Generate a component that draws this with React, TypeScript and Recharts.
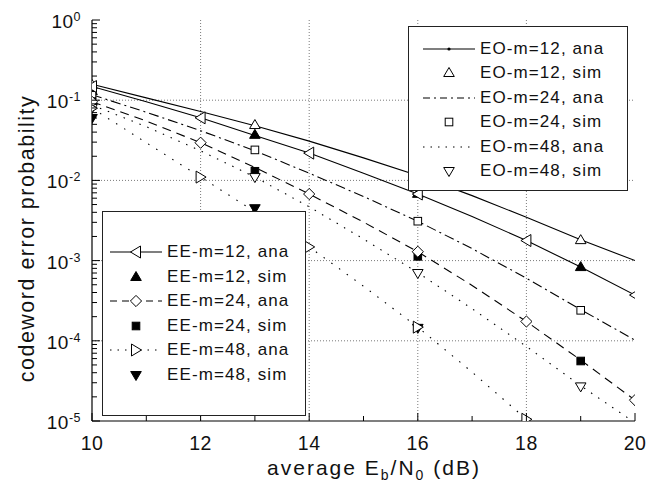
import React from 'react';
import { ComposedChart, Line, Scatter, XAxis, YAxis, CartesianGrid, Legend } from 'recharts';

// ---------- data ----------
const SNR = [10, 11, 12, 13, 14, 15, 16, 17, 18, 19, 20];
const SIM_SNR = [10, 13, 16, 19];
const EE48_SNR = [10, 11, 12, 13, 14, 15, 16, 17, 18];
const EE48_SIM_SNR = [10, 13, 16];

const EO12_ANA = [0.158, 0.107, 0.0724, 0.0479, 0.0309, 0.0191, 0.0115, 0.00646, 0.00347, 0.00182, 0.001];
const EO12_SIM = [0.155, 0.049, 0.0115, 0.0018];
const EE12_ANA = [0.148, 0.0955, 0.0603, 0.0363, 0.0219, 0.0123, 0.00676, 0.00355, 0.00178, 0.00083, 0.000372];
const EE12_SIM = [0.13, 0.037, 0.0068, 0.00083];
const EO24_ANA = [0.117, 0.0708, 0.0417, 0.0234, 0.0123, 0.0063, 0.00309, 0.00141, 0.000603, 0.000245, 0.000102];
const EO24_SIM = [0.115, 0.024, 0.0031, 0.00024];
const EE24_ANA = [0.0955, 0.055, 0.0295, 0.0145, 0.00676, 0.00302, 0.00129, 0.00049, 0.000174, 0.0000575, 0.0000182];
const EE24_SIM = [0.096, 0.013, 0.00113, 0.000056];
const EO48_ANA = [0.0871, 0.0468, 0.0234, 0.011, 0.00468, 0.00186, 0.000708, 0.000251, 0.0000851, 0.0000275, 0.0000095];
const EO48_SIM = [0.08, 0.011, 0.0007, 0.000027];
const EE48_ANA = [0.0794, 0.0295, 0.011, 0.00407, 0.00148, 0.000479, 0.000148, 0.0000407, 0.0000105];
const EE48_SIM = [0.06, 0.0045, 0.000145];

const X_TICKS = [10, 11, 12, 13, 14, 15, 16, 17, 18, 19, 20];
const X_LABELS = [10, 12, 14, 16, 18, 20];
const X_GRID = [12, 14, 16, 18];
const Y_DECADES = [1e-5, 1e-4, 1e-3, 1e-2, 1e-1, 1];
const Y_EXP_LABELS = ['-5', '-4', '-3', '-2', '-1', '0'];
const Y_GRID = [1e-4, 1e-3, 1e-2, 1e-1];

const Y_MINOR: number[] = [];
[1e-5, 1e-4, 1e-3, 1e-2, 1e-1].forEach((d) => {
  for (let k = 2; k <= 9; k++) Y_MINOR.push(k * d);
});
const Y_TICKS = [...Y_DECADES, ...Y_MINOR].sort((a, b) => a - b);

const pts = (xs: number[], ys: number[]) => xs.map((x, i) => ({ x, y: ys[i] }));

// ---------- styles ----------
const FONT = '"Liberation Sans", Arial, Helvetica, sans-serif';
const LW = 1.1;
const DASH_EO24 = '10 4 2 4';
const DASH_EE24 = '9 6';
const DOT_48 = '1.5 7';

type MarkerType = 'triUp' | 'triDown' | 'triLeft' | 'triRight' | 'square' | 'diamond' | 'dot';

const Marker = ({ type, cx, cy, filled }: { type: MarkerType; cx: number; cy: number; filled?: boolean }) => {
  if (cx == null || cy == null || isNaN(cx) || isNaN(cy)) return <g />;
  const fill = filled ? '#000' : '#fff';
  const common = { fill, stroke: '#000', strokeWidth: 1 };
  switch (type) {
    case 'triUp':
      return <polygon {...common} points={`${cx},${cy - 5.5} ${cx + 5.3},${cy + 3.5} ${cx - 5.3},${cy + 3.5}`} />;
    case 'triDown':
      return <polygon {...common} points={`${cx},${cy + 5.5} ${cx + 5.3},${cy - 3.5} ${cx - 5.3},${cy - 3.5}`} />;
    case 'triLeft':
      return <polygon {...common} points={`${cx - 5.5},${cy} ${cx + 4.5},${cy - 6} ${cx + 4.5},${cy + 6}`} />;
    case 'triRight':
      return <polygon {...common} points={`${cx + 5.5},${cy} ${cx - 4.5},${cy - 6} ${cx - 4.5},${cy + 6}`} />;
    case 'square':
      return <rect {...common} x={cx - 3.8} y={cy - 3.8} width={7.6} height={7.6} />;
    case 'diamond':
      return <polygon {...common} points={`${cx},${cy - 5.6} ${cx + 5.6},${cy} ${cx},${cy + 5.6} ${cx - 5.6},${cy}`} />;
    case 'dot':
      return <circle cx={cx} cy={cy} r={1.6} fill="#000" />;
    default:
      return <g />;
  }
};

type LegendItem = { name: string; line: boolean; dash?: string; marker?: MarkerType; filled?: boolean };

const EO_LEGEND: LegendItem[] = [
  { name: 'EO-m=12, ana', line: true, marker: 'dot' },
  { name: 'EO-m=12, sim', line: false, marker: 'triUp' },
  { name: 'EO-m=24, ana', line: true, dash: '7 4 2 4' },
  { name: 'EO-m=24, sim', line: false, marker: 'square' },
  { name: 'EO-m=48, ana', line: true, dash: '1.5 6' },
  { name: 'EO-m=48, sim', line: false, marker: 'triDown' },
];
const EE_LEGEND: LegendItem[] = [
  { name: 'EE-m=12, ana', line: true, marker: 'triLeft' },
  { name: 'EE-m=12, sim', line: false, marker: 'triUp', filled: true },
  { name: 'EE-m=24, ana', line: true, dash: '7 5', marker: 'diamond' },
  { name: 'EE-m=24, sim', line: false, marker: 'square', filled: true },
  { name: 'EE-m=48, ana', line: true, dash: '1.5 6', marker: 'triRight' },
  { name: 'EE-m=48, sim', line: false, marker: 'triDown', filled: true },
];

const LegendBox = ({
  items, left, top, width, height, firstRow, rowGap, lineX, textX,
}: {
  items: LegendItem[]; left: number; top: number; width: number; height: number;
  firstRow: number; rowGap: number; lineX: number; textX: number;
}) => (
  <div
    style={{
      position: 'absolute', left, top, width, height, background: '#fff',
      border: '1px solid #222', boxSizing: 'border-box', fontFamily: FONT,
    }}
  >
    {items.map((it, i) => {
      const cyRow = firstRow + i * rowGap;
      return (
        <div key={it.name} style={{ position: 'absolute', left: 0, top: cyRow - 12, height: 24, width: '100%' }}>
          <svg style={{ position: 'absolute', left: lineX, top: 0 }} width={52} height={24}>
            {it.line && (
              <line x1={0} y1={12} x2={52} y2={12} stroke="#000" strokeWidth={LW} strokeDasharray={it.dash} />
            )}
            {it.marker && <Marker type={it.marker} cx={26} cy={12} filled={it.filled} />}
          </svg>
          <span
            style={{
              position: 'absolute', left: textX, top: 0, lineHeight: '24px', fontSize: 17,
              letterSpacing: 1.1, color: '#111', whiteSpace: 'nowrap',
            }}
          >
            {it.name}
          </span>
        </div>
      );
    })}
  </div>
);

const renderLegend = () => (
  <div style={{ position: 'relative', width: 0, height: 0 }}>
    <LegendBox items={EO_LEGEND} left={408} top={26} width={220} height={165}
      firstRow={22} rowGap={24.4} lineX={14} textX={71} />
    <LegendBox items={EE_LEGEND} left={102} top={211} width={204} height={205}
      firstRow={40} rowGap={24.6} lineX={7} textX={64} />
  </div>
);

// ---------- ticks ----------
const LeftTick = (props: any) => {
  const { x, y, payload } = props;
  const idx = Y_DECADES.indexOf(payload.value);
  const major = idx >= 0;
  return (
    <g>
      <line x1={x} y1={y} x2={x + (major ? 8 : 5)} y2={y} stroke="#000" strokeWidth={1} />
      {major && (
        <text x={x - 11} y={y + 8} textAnchor="end" fontSize={19} fontFamily={FONT} fill="#111" letterSpacing={0.5}>
          10
          <tspan dy={-7} fontSize={12.5}>{Y_EXP_LABELS[idx]}</tspan>
        </text>
      )}
    </g>
  );
};

const RightTick = (props: any) => {
  const { x, y, payload } = props;
  const major = Y_DECADES.indexOf(payload.value) >= 0;
  return <line x1={x} y1={y} x2={x - (major ? 8 : 5)} y2={y} stroke="#000" strokeWidth={1} />;
};

const BottomTick = (props: any) => {
  const { x, y, payload } = props;
  const major = X_LABELS.indexOf(payload.value) >= 0;
  return (
    <g>
      <line x1={x} y1={y} x2={x} y2={y - (major ? 8 : 5)} stroke="#000" strokeWidth={1} />
      {major && (
        <text x={x} y={y + 29} textAnchor="middle" fontSize={19.5} fontFamily={FONT} fill="#111" letterSpacing={0.5}>
          {payload.value}
        </text>
      )}
    </g>
  );
};

const TopTick = (props: any) => {
  const { x, y, payload } = props;
  const major = X_LABELS.indexOf(payload.value) >= 0;
  return <line x1={x} y1={y} x2={x} y2={y + (major ? 7 : 5)} stroke="#000" strokeWidth={1} />;
};

const XTitle = () => (
  <text x={374} y={475} textAnchor="middle" fontSize={21} fontFamily={FONT} fill="#111" letterSpacing={2}>
    average E<tspan dy={5} fontSize={14}>b</tspan>
    <tspan dy={-5}>/N</tspan>
    <tspan dy={5} fontSize={14}>0</tspan>
    <tspan dy={-5}> (dB)</tspan>
  </text>
);

const YTitle = () => (
  <text transform="translate(34, 238.5) rotate(-90)" textAnchor="middle" fontSize={21.5}
    fontFamily={FONT} fill="#111" letterSpacing={1.5}>
    codeword error probability
  </text>
);

const evenDot = (type: MarkerType) => (p: any) => {
  const key = `${type}-${p.index}`;
  if (p.payload && p.payload.x % 2 === 0) {
    return <Marker key={key} type={type} cx={p.cx} cy={p.cy} />;
  }
  return <g key={key} />;
};

const shapeOf = (type: MarkerType, filled: boolean) => (p: any) => (
  <Marker type={type} cx={p.cx} cy={p.cy} filled={filled} />
);

export default function App() {
  return (
    <div style={{ position: 'absolute', left: 0, top: 0, width: 646, height: 486, background: '#fff' }}>
      <ComposedChart width={646} height={486} margin={{ top: 20, right: 11, bottom: 25, left: 32 }}>
        <CartesianGrid
          horizontalValues={Y_GRID} verticalValues={X_GRID}
          stroke="#7a7a7a" strokeDasharray="1 2" strokeWidth={1}
        />
        <XAxis
          type="number" dataKey="x" domain={[10, 20]} allowDataOverflow ticks={X_TICKS} interval={0}
          height={40} tickSize={0} tickMargin={0} tickLine={false} tick={<BottomTick />}
          axisLine={{ stroke: '#000', strokeWidth: 1.2 }} label={<XTitle />}
        />
        <XAxis
          xAxisId="t" orientation="top" type="number" dataKey="x" domain={[10, 20]} allowDataOverflow
          ticks={X_TICKS} interval={0} height={0} tickSize={0} tickMargin={0} tickLine={false}
          tick={<TopTick />} axisLine={{ stroke: '#000', strokeWidth: 1.2 }}
        />
        <YAxis
          type="number" scale="log" domain={[1e-5, 1]} allowDataOverflow ticks={Y_TICKS} interval={0}
          width={60} tickSize={0} tickMargin={0} tickLine={false} tick={<LeftTick />}
          axisLine={{ stroke: '#000', strokeWidth: 1.2 }} label={<YTitle />}
        />
        <YAxis
          yAxisId="r" orientation="right" type="number" scale="log" domain={[1e-5, 1]} allowDataOverflow
          ticks={Y_TICKS} interval={0} width={0} tickSize={0} tickMargin={0} tickLine={false}
          tick={<RightTick />} axisLine={{ stroke: '#000', strokeWidth: 1.2 }}
        />

        <Line xAxisId="t" yAxisId="r" data={pts(SNR, EO12_ANA)} dataKey="y" stroke="none" dot={false}
          legendType="none" isAnimationActive={false} />

        <Line name="EO-m=12, ana" data={pts(SNR, EO12_ANA)} dataKey="y" stroke="#000" strokeWidth={LW}
          dot={false} isAnimationActive={false} />
        <Line name="EE-m=12, ana" data={pts(SNR, EE12_ANA)} dataKey="y" stroke="#000" strokeWidth={LW}
          dot={evenDot('triLeft')} isAnimationActive={false} />
        <Line name="EO-m=24, ana" data={pts(SNR, EO24_ANA)} dataKey="y" stroke="#000" strokeWidth={LW}
          strokeDasharray={DASH_EO24} dot={false} isAnimationActive={false} />
        <Line name="EE-m=24, ana" data={pts(SNR, EE24_ANA)} dataKey="y" stroke="#000" strokeWidth={LW}
          strokeDasharray={DASH_EE24} dot={evenDot('diamond')} isAnimationActive={false} />
        <Line name="EO-m=48, ana" data={pts(SNR, EO48_ANA)} dataKey="y" stroke="#000" strokeWidth={LW}
          strokeDasharray={DOT_48} dot={false} isAnimationActive={false} />
        <Line name="EE-m=48, ana" data={pts(EE48_SNR, EE48_ANA)} dataKey="y" stroke="#000" strokeWidth={LW}
          strokeDasharray="1.5 8" dot={evenDot('triRight')} isAnimationActive={false} />

        <Scatter name="EO-m=12, sim" data={pts(SIM_SNR, EO12_SIM)} dataKey="y" shape={shapeOf('triUp', false)} isAnimationActive={false} />
        <Scatter name="EE-m=12, sim" data={pts(SIM_SNR, EE12_SIM)} dataKey="y" shape={shapeOf('triUp', true)} isAnimationActive={false} />
        <Scatter name="EO-m=24, sim" data={pts(SIM_SNR, EO24_SIM)} dataKey="y" shape={shapeOf('square', false)} isAnimationActive={false} />
        <Scatter name="EE-m=24, sim" data={pts(SIM_SNR, EE24_SIM)} dataKey="y" shape={shapeOf('square', true)} isAnimationActive={false} />
        <Scatter name="EO-m=48, sim" data={pts(SIM_SNR, EO48_SIM)} dataKey="y" shape={shapeOf('triDown', false)} isAnimationActive={false} />
        <Scatter name="EE-m=48, sim" data={pts(EE48_SIM_SNR, EE48_SIM)} dataKey="y" shape={shapeOf('triDown', true)} isAnimationActive={false} />

        <Legend content={renderLegend} wrapperStyle={{ left: 0, top: 0, width: 646, height: 0 }} />
      </ComposedChart>
    </div>
  );
}
